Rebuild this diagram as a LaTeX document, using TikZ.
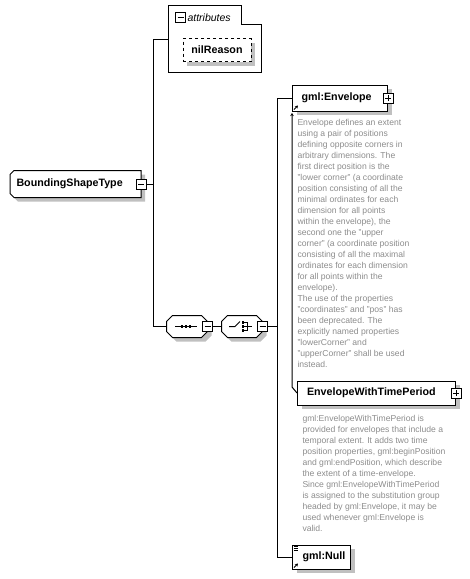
\documentclass[tikz,border=0pt]{standalone}
\usepackage{fontspec}
\setmainfont{Liberation Sans}
\usetikzlibrary{shadows,arrows.meta,backgrounds}

\definecolor{shadowgray}{RGB}{192,192,192}
\definecolor{docgray}{RGB}{140,140,140}

\tikzset{
  shade4/.style={drop shadow={shadow xshift=4pt,shadow yshift=-4pt,fill=shadowgray,opacity=1}},
  elem/.style={draw,fill=white,shade4,minimum height=25pt,inner ysep=0pt,align=left,anchor=west,
    font=\fontsize{10.7}{12}\selectfont\bfseries},
  ctype/.style={minimum height=26pt,inner ysep=0pt,align=left,anchor=west,
    font=\fontsize{10.7}{12}\selectfont\bfseries},
  outline/.style={draw,line width=1pt,fill=white,shade4},
  octo/.style={minimum width=40pt,minimum height=21pt,inner sep=0pt},
  minusbox/.style={draw,fill=white,minimum size=10pt,inner sep=0pt,
    path picture={\draw ([xshift=2pt]path picture bounding box.west) -- ([xshift=-2pt]path picture bounding box.east);}},
  plusbox/.style={draw,fill=white,minimum size=10pt,inner sep=0pt,
    path picture={\draw ([xshift=2pt]path picture bounding box.west) -- ([xshift=-2pt]path picture bounding box.east);
      \draw ([yshift=2pt]path picture bounding box.south) -- ([yshift=-2pt]path picture bounding box.north);}},
  doc/.style={inner sep=0pt,align=left,text=docgray,font=\fontsize{8.6}{11}\selectfont},
  refarrow/.style={-{Stealth[length=3pt,width=3.5pt]},line width=1pt}
}

\begin{document}
\begin{tikzpicture}[x=1pt,y=-1pt,line width=1pt]
\useasboundingbox (0,0) rectangle (470,579);

% attributes
\draw[fill=white] (168,5) -- (241,5) -- (241,24) -- (261,24) -- (261,72) -- (168,72) -- cycle;
\coordinate (attrs) at (168,39);
\node[minusbox] (attrsminus) at (180.5,17.5) {};
\node[anchor=west,inner sep=0pt,font=\fontsize{10.5}{12}\selectfont\itshape] (attrslabel) at (187,17.5) {attributes};
\node[elem,dashed,anchor=center,minimum width=68pt,minimum height=23pt] (nil) at (217,50) {nilReason};

% the complex type
\node[ctype,text width=118pt,inner xsep=6pt] (bst) at (10,184) {BoundingShapeType};
\begin{scope}[on background layer]
  \path[outline] ([yshift=-4pt]bst.north west) -- ([xshift=4pt]bst.north west) -- (bst.north east)
    -- (bst.south east) -- ([xshift=4pt]bst.south west) -- ([yshift=4pt]bst.south west) -- cycle;
\end{scope}
\node[minusbox] (bstminus) at (bst.east) {};
\coordinate (j1) at (153,184);
\draw (bstminus.east) -- (j1);
\draw (attrs) -| (j1);

% sequence and choice
\node[octo] (seq) at (187,326.5) {};
\node[octo] (cho) at (242,326.5) {};
\begin{scope}[on background layer]
  \foreach \o in {seq,cho}
    \path[outline] ([xshift=6pt]\o.north west) -- ([xshift=-6pt]\o.north east) -- ([yshift=-6pt]\o.north east)
      -- ([yshift=6pt]\o.south east) -- ([xshift=-6pt]\o.south east) -- ([xshift=6pt]\o.south west)
      -- ([yshift=6pt]\o.south west) -- ([yshift=-6pt]\o.north west) -- cycle;
\end{scope}
\node[minusbox] (seqminus) at (seq.east) {};
\node[minusbox] (chominus) at (cho.east) {};
\draw (seq.west) -| (j1);
\draw (seqminus.east) -- (cho.west);
\begin{scope}[shift={(seq.center)}]
  \draw (-12,0) -- (10,0);
  \foreach \i in {-5,-1,3}
    \fill (\i-1.4,-1.4) rectangle (\i+1.4,1.4);
\end{scope}
\begin{scope}[shift={(cho.center)}]
  \draw (-13,0) -- (-7,0) -- (-2,-5);
  \foreach \j in {-4,0,4}
    \fill (0,\j-1.2) rectangle (2.4,\j+1.2);
  \draw (2.4,-4) -- (5,-4) -- (5,4) -- (2.4,4);
  \draw (2.4,0) -- (10,0);
\end{scope}
\coordinate (j2) at (277,326.5);
\draw (chominus.east) -- (j2);

% gml:Envelope
\node[elem,text width=77pt,inner xsep=9pt,minimum height=26pt] (env) at (292,98) {gml:Envelope};
\node[plusbox] (envplus) at (env.east) {};
\draw[refarrow] ([xshift=2pt,yshift=2pt]env.south west) -- ++(4pt,4pt);
\draw (env.west) -| (j2);
\node[doc,anchor=north west] (envdoc) at (297,118.5) {Envelope defines an extent\\
using a pair of positions\\
defining opposite corners in\\
arbitrary dimensions. The\\
first direct position is the\\
"lower corner" (a coordinate\\
position consisting of all the\\
minimal ordinates for each\\
dimension for all points\\
within the envelope), the\\
second one the "upper\\
corner" (a coordinate position\\
consisting of all the maximal\\
ordinates for each dimension\\
for all points within the\\
envelope).\\
The use of the properties\\
"coordinates" and "pos" has\\
been deprecated. The\\
explicitly named properties\\
"lowerCorner" and\\
"upperCorner" shall be used\\
instead.};

% EnvelopeWithTimePeriod
\node[elem,text width=139pt,inner xsep=9.5pt,minimum height=24pt] (ewtp) at (297,393) {EnvelopeWithTimePeriod};
\node[plusbox] (ewtpplus) at (ewtp.east) {};
\coordinate (sg) at (292,387);
\draw[{Stealth[length=3pt,width=3.5pt]}-] ([yshift=-1.5pt]env.south west) -- (sg) -- (ewtp.west);
\node[doc,anchor=north west] (ewtpdoc) at (302,414.5) {gml:EnvelopeWithTimePeriod is\\
provided for envelopes that include a\\
temporal extent. It adds two time\\
position properties, gml:beginPosition\\
and gml:endPosition, which describe\\
the extent of a time-envelope.\\
Since gml:EnvelopeWithTimePeriod\\
is assigned to the substitution group\\
headed by gml:Envelope, it may be\\
used whenever gml:Envelope is\\
valid.};

% gml:Null
\node[elem,text width=38pt,inner xsep=10pt,minimum height=24pt] (null) at (292,557) {gml:Null};
\draw[refarrow] ([xshift=2pt,yshift=2pt]null.south west) -- ++(4pt,4pt);
\foreach \k in {2,3.7,5.4}
  \draw[line width=0.8pt] ([xshift=1.5pt,yshift=-\k pt]null.north west) -- ++(4.5pt,0pt);
\draw (null.west) -| (j2);
\end{tikzpicture}
\end{document}
